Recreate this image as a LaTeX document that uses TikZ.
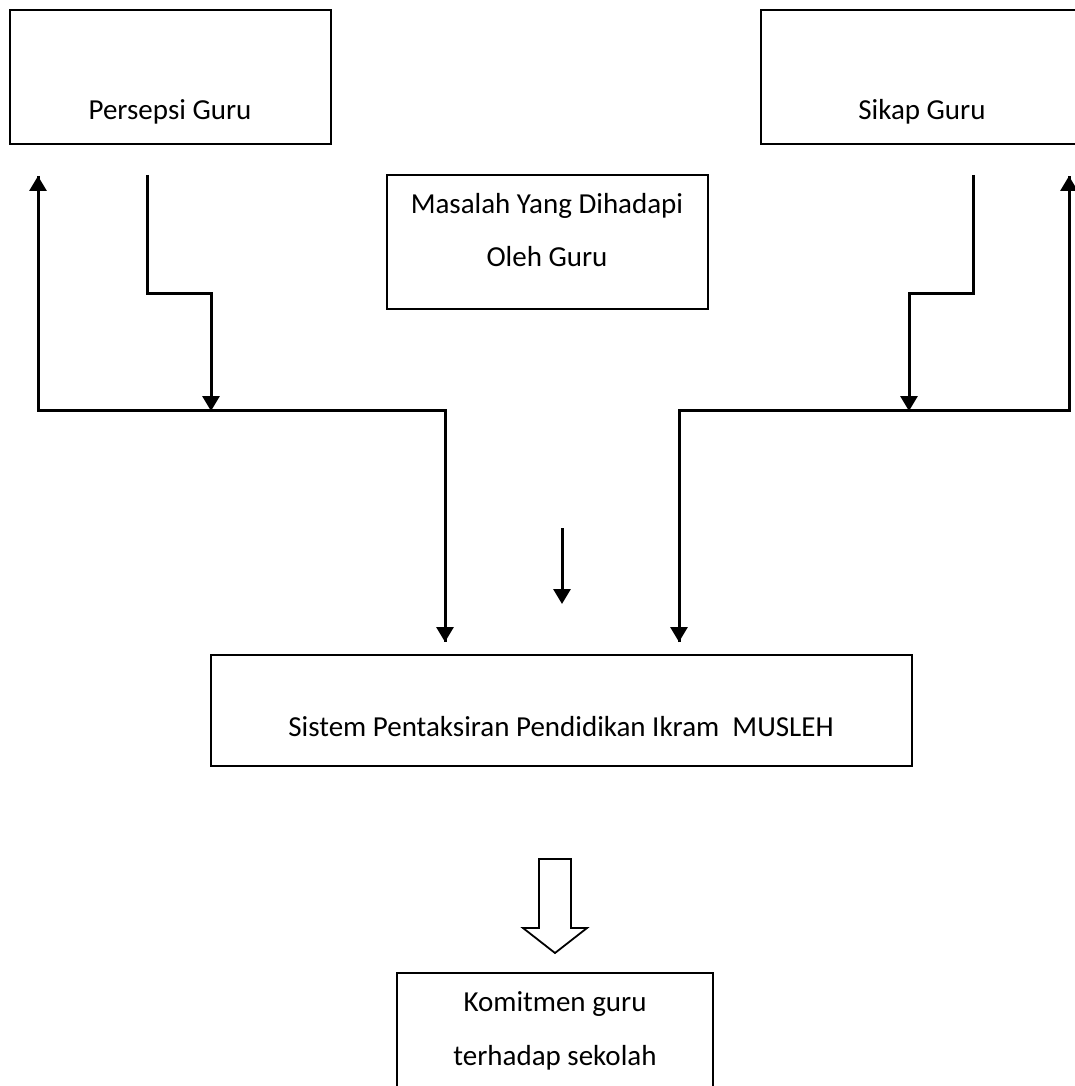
\documentclass[tikz,border=0pt]{standalone}
\usepackage{fontspec}
\setmainfont{Carlito}
\usetikzlibrary{arrows.meta}
\begin{document}
\begin{tikzpicture}[x=1pt,y=-1pt,
  box/.style={draw,line width=2.4pt,inner sep=0pt},
  txt/.style={inner sep=0pt,font=\fontsize{29}{35}\selectfont},
  conn/.style={line width=3pt},
  arr/.style={conn,-{Triangle[width=17pt,length=15pt]}}]
\useasboundingbox (0,0) rectangle (1075,1086);
% boxes
\draw[box] (10,10) rectangle (331,144);
\node[txt] (persepsi) at (170,112) {Persepsi Guru};
\draw[box] (761,10) rectangle (1082,144);
\node[txt] (sikap) at (922,112) {Sikap Guru};
\draw[box] (387,175) rectangle (708,309);
\node[txt] (masalah1) at (547,206) {Masalah Yang Dihadapi};
\node[txt] (masalah2) at (547,257) {Oleh Guru};
\draw[box] (211,655) rectangle (912,766);
\node[txt] (sistem) at (561,727) {Sistem Pentaksiran Pendidikan Ikram\ \ MUSLEH};
\draw[box] (397,973) rectangle (713,1095);
\node[txt] (komit1) at (555,1004) {Komitmen guru};
\node[txt] (komit2) at (555,1058) {terhadap sekolah};
% coordinates
\coordinate (lA) at (147,175);
\coordinate (lB) at (147,293);
\coordinate (lC) at (211,293);
\coordinate (lD) at (211,411);
\coordinate (lE) at (38,410);
\coordinate (lF) at (38,176);
\coordinate (lG) at (445,410);
\coordinate (lH) at (445,642);
\coordinate (rA) at (973,175);
\coordinate (rB) at (973,293);
\coordinate (rC) at (909,293);
\coordinate (rD) at (909,411);
\coordinate (rE) at (1069,410);
\coordinate (rF) at (1069,176);
\coordinate (rG) at (679,410);
\coordinate (rH) at (679,642);
\coordinate (mA) at (562,528);
\coordinate (mB) at (562,604);
% connectors
\draw[arr] (lA) -- (lB) -- (lC) -- (lD);
\draw[conn,line join=miter] (lF) -- (lE) -- (lG) -- (lH);
\draw[arr] (lE) -- (lF);
\draw[arr] (lG) -- (lH);
\draw[arr] (rA) -- (rB) -- (rC) -- (rD);
\draw[conn,line join=miter] (rH) -- (rG) -- (rE) -- (rF);
\draw[arr] (rE) -- (rF);
\draw[arr] (rG) -- (rH);
\draw[arr] (mA) -- (mB);
% hollow arrow
\draw[line width=1.8pt,line join=miter] (539,859) -- (571,859) -- (571,928) -- (587,928) -- (555,953) -- (523,928) -- (539,928) -- cycle;
\end{tikzpicture}
\end{document}
